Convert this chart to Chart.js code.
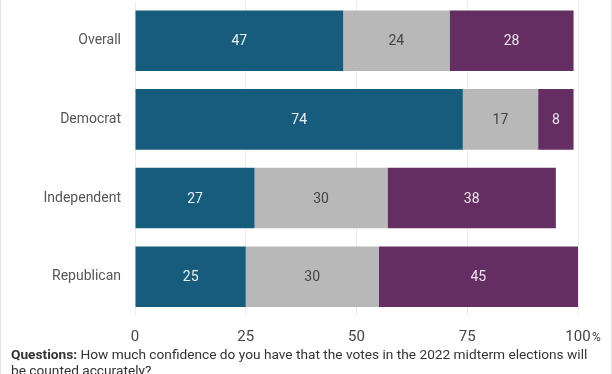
<!DOCTYPE html>
<html>
<head>
<meta charset="utf-8">
<script src="https://cdn.jsdelivr.net/npm/chart.js@4/dist/chart.umd.min.js"></script>
<style>
  html, body { margin: 0; padding: 0; background: #fff; }
  #wrap { position: relative; width: 612px; height: 374px; overflow: hidden; box-sizing: border-box; border-left: 1px solid #e4e4e4; border-right: 1px solid #e4e4e4; }
  #box { position: absolute; left: -1px; top: -13px; width: 612px; height: 371px; }
  #note { position: absolute; left: 10px; top: 346px; width: 588px; font: 13.7px Roboto, sans-serif; line-height: 16px; color: #333; }
  #note b { font-weight: 700; }
</style>
</head>
<body>
<div id="wrap">
  <div id="box"><canvas id="chart"></canvas></div>
  <div id="note"><b>Questions:</b> How much confidence do you have that the votes in the 2022 midterm elections will be counted accurately?</div>
</div>
<script>
const categories = ['Overall', 'Democrat', 'Independent', 'Republican'];
const confident = [47, 74, 27, 25];
const middle = [24, 17, 30, 30];
const notConfident = [28, 8, 38, 45];
const xTicks = [0, 25, 50, 75, 100];

const BLUE = '#175c7c';
const GRAY = '#b8b8b8';
const PURPLE = '#652e62';

// writes the value in the middle of each bar segment
const barLabels = {
    id: 'barLabels',
    afterDatasetsDraw(chart) {
        const ctx = chart.ctx;
        ctx.save();
        ctx.font = '14px Roboto, sans-serif';
        ctx.textAlign = 'center';
        ctx.textBaseline = 'middle';
        chart.data.datasets.forEach((ds, i) => {
            chart.getDatasetMeta(i).data.forEach((bar, j) => {
                const p = bar.getProps(['x', 'y', 'base'], true);
                ctx.fillStyle = ds.labelColor;
                ctx.fillText(ds.data[j], (p.x + p.base) / 2, p.y + 1);
            });
        });
        ctx.restore();
    },
};

// small % sign after the last x tick
const percentSign = {
    id: 'percentSign',
    afterDraw(chart) {
        const x = chart.scales.x;
        const ctx = chart.ctx;
        ctx.save();
        ctx.font = '12px Roboto, sans-serif';
        ctx.fillStyle = '#444';
        ctx.textBaseline = 'middle';
        ctx.fillText('%', x.getPixelForValue(100) + 14, chart.chartArea.bottom + 22);
        ctx.restore();
    },
};

new Chart(document.getElementById('chart'), {
    type: 'bar',
    data: {
        labels: categories,
        datasets: [
            { data: confident, backgroundColor: BLUE, labelColor: '#e8f0f4' },
            { data: middle, backgroundColor: GRAY, labelColor: '#444' },
            { data: notConfident, backgroundColor: PURPLE, labelColor: '#eee6ee' },
        ],
    },
    options: {
        indexAxis: 'y',
        responsive: true,
        maintainAspectRatio: false,
        animation: false,
        layout: { padding: { top: 0, right: 34, bottom: 0, left: 0 } },
        datasets: { bar: { categoryPercentage: 0.77, barPercentage: 1, borderWidth: 0 } },
        plugins: { legend: { display: false }, tooltip: { enabled: false } },
        scales: {
            x: {
                stacked: true,
                min: 0,
                max: 100,
                afterBuildTicks: (s) => { s.ticks = xTicks.map((v) => ({ value: v })); },
                grid: { color: '#ececec', drawTicks: false },
                border: { display: false },
                ticks: { color: '#444', font: { family: 'Roboto', size: 15 }, padding: 12 },
            },
            y: {
                stacked: true,
                afterFit: (s) => { s.width = 135; },
                grid: { display: false },
                border: { display: false },
                ticks: { color: '#555', font: { family: 'Roboto', size: 14 }, padding: 6 },
            },
        },
    },
    plugins: [barLabels, percentSign],
});
</script>
</body>
</html>
